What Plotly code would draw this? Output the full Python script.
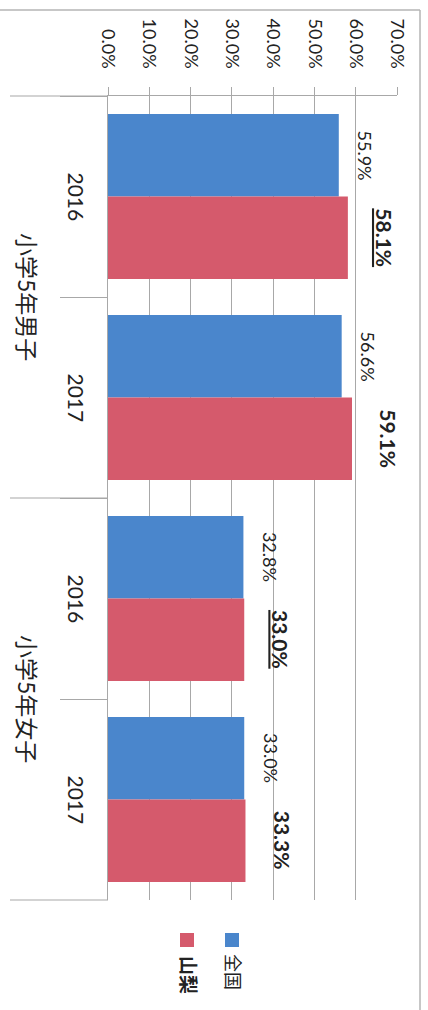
import plotly.graph_objects as go

groups = ["小学5年男子", "小学5年女子"]
years = ["2016", "2017"]
series_names = ["全国", "山梨"]
zenkoku = [0.559, 0.566, 0.328, 0.330]
yamanashi = [0.581, 0.591, 0.330, 0.333]
yamanashi_underline = [True, False, True, False]
x_ticks = [0.0, 0.1, 0.2, 0.3, 0.4, 0.5, 0.6, 0.7]

cats = [f"{g} {y}" for g in groups for y in years]

BLUE = "#4a86cc"
RED = "#d55a6c"
GRID = "#a8a8a8"
TXT = "#222222"
FONT = "Lato, 'Noto Sans CJK JP', sans-serif"

W, H = 428, 1010
ML, MR, MT, MB = 108, 31, 96, 110
PW = W - ML - MR
PH = H - MT - MB
BARGAP = 0.18

def px_x(p):
    return (p - ML) / PW

def px_y(p):
    return (MT + PH - p) / PH

fig = go.Figure()
fig.add_trace(go.Bar(y=cats, x=zenkoku, name=series_names[0], orientation="h",
                     marker=dict(color=BLUE, line=dict(width=0))))
fig.add_trace(go.Bar(y=cats, x=yamanashi, name=series_names[1], orientation="h",
                     marker=dict(color=RED, line=dict(width=0))))

slot = PH / len(cats)
bar_off = slot * (1 - BARGAP) / 4

ann = []
for i, c in enumerate(cats):
    ann.append(dict(x=zenkoku[i], y=c, xref="x", yref="y", text=f"{zenkoku[i]*100:.1f}%",
                    textangle=90, showarrow=False, xanchor="left", yanchor="middle",
                    xshift=13, yshift=bar_off, font=dict(size=18, color=TXT, family=FONT)))
    t = f"<b>{yamanashi[i]*100:.1f}%</b>"
    if yamanashi_underline[i]:
        t = f"<u>{t}</u>"
    ann.append(dict(x=yamanashi[i], y=c, xref="x", yref="y", text=t,
                    textangle=90, showarrow=False, xanchor="left", yanchor="middle",
                    xshift=22, yshift=-bar_off, font=dict(size=21, color=TXT, family=FONT)))
    # year labels
    ann.append(dict(x=px_x(76), y=c, xref="paper", yref="y", text=years[i % 2],
                    textangle=90, showarrow=False, xanchor="center", yanchor="middle",
                    font=dict(size=21, color=TXT, family=FONT)))
for gi, g in enumerate(groups):
    ann.append(dict(x=px_x(27), y=gi * 2 + 0.5, xref="paper", yref="y", text=g,
                    textangle=90, showarrow=False, xanchor="center", yanchor="middle",
                    font=dict(size=23, color=TXT, family=FONT)))

# legend
ann.append(dict(x=px_x(233), y=px_y(972), xref="paper", yref="paper", text=series_names[0],
                textangle=90, showarrow=False, xanchor="center", yanchor="middle",
                font=dict(size=18, color=TXT, family=FONT)))
ann.append(dict(x=px_x(189), y=px_y(975), xref="paper", yref="paper", text=f"<b>{series_names[1]}</b>",
                textangle=90, showarrow=False, xanchor="center", yanchor="middle",
                font=dict(size=19, color=TXT, family=FONT)))

shapes = []
# long dividers
for py in [0, 0.5, 1]:
    shapes.append(dict(type="line", xref="paper", yref="paper", x0=px_x(10), x1=0, y0=py, y1=py,
                       line=dict(color=GRID, width=1.2)))
# legend squares
shapes.append(dict(type="rect", xref="paper", yref="paper", x0=px_x(225), x1=px_x(239),
                   y0=px_y(947), y1=px_y(933), fillcolor=BLUE, line=dict(width=0)))
shapes.append(dict(type="rect", xref="paper", yref="paper", x0=px_x(180), x1=px_x(194),
                   y0=px_y(947), y1=px_y(933), fillcolor=RED, line=dict(width=0)))
# frame
shapes.append(dict(type="line", xref="paper", yref="paper", x0=px_x(0), x1=px_x(420),
                   y0=px_y(10), y1=px_y(10), line=dict(color="#b5b5b5", width=1.5)))
shapes.append(dict(type="line", xref="paper", yref="paper", x0=px_x(420), x1=px_x(420),
                   y0=px_y(10), y1=px_y(1010), line=dict(color="#b5b5b5", width=1.5)))

fig.update_layout(
    width=W, height=H,
    margin=dict(l=ML, r=MR, t=MT, b=MB, pad=0),
    paper_bgcolor="white", plot_bgcolor="white",
    barmode="group", bargap=BARGAP, bargroupgap=0,
    showlegend=False,
    annotations=ann, shapes=shapes,
    font=dict(family=FONT, color=TXT),
    xaxis=dict(side="top", range=[0, 0.7], tickvals=x_ticks, tickformat=".1%",
               tickangle=90, ticks="outside", ticklen=8, tickcolor=GRID,
               ticklabelstandoff=12,
               showline=True, linecolor=GRID, linewidth=1.2,
               showgrid=True, gridcolor=GRID, gridwidth=1, zeroline=False,
               tickfont=dict(size=18, color=TXT, family=FONT)),
    yaxis=dict(type="category", categoryorder="array", categoryarray=cats,
               autorange="reversed", showticklabels=False,
               ticks="outside", tickson="boundaries", ticklen=47, tickcolor=GRID,
               showline=True, linecolor=GRID, linewidth=1.2, showgrid=False, zeroline=False),
)

fig.write_html("out.html")
